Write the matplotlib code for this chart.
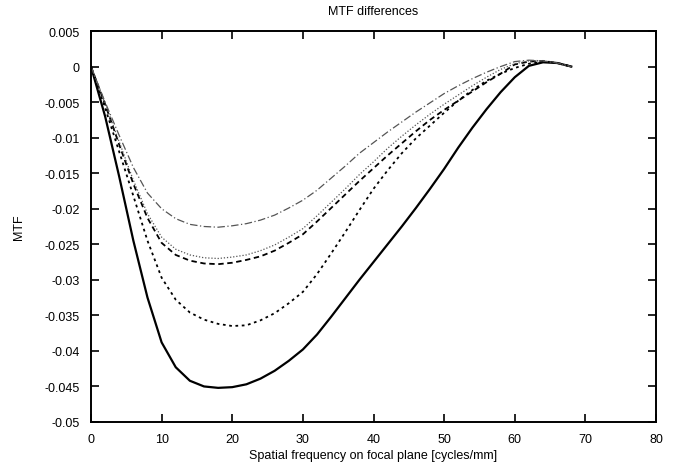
import matplotlib
matplotlib.use("Agg")
import matplotlib.pyplot as plt
import numpy as np

# spatial frequency samples (cycles/mm)
freq = [0, 2, 4, 6, 8, 10, 12, 14, 16, 18, 20, 22, 24, 26, 28, 30, 32, 34,
        36, 38, 40, 42, 44, 46, 48, 50, 52, 54, 56, 58, 60, 62, 64, 66, 68]

# MTF differences
mtf_solid = [0, -0.0070, -0.0155, -0.0245, -0.0325, -0.0388, -0.0423, -0.0442,
             -0.0450, -0.0452, -0.0451, -0.0447, -0.0439, -0.0428, -0.0414,
             -0.0398, -0.0377, -0.0352, -0.0326, -0.0300, -0.0275, -0.0250,
             -0.0225, -0.0199, -0.0172, -0.0144, -0.0114, -0.0086, -0.0060,
             -0.0036, -0.0015, 0.0001, 0.0006, 0.0005, 0.0]
mtf_shortdash = [0, -0.0058, -0.0120, -0.0182, -0.0245, -0.0297, -0.0328,
                 -0.0346, -0.0356, -0.0362, -0.0365, -0.0364, -0.0357, -0.0347,
                 -0.0333, -0.0317, -0.0292, -0.0263, -0.0233, -0.0202, -0.0172,
                 -0.0146, -0.0122, -0.0101, -0.0083, -0.0065, -0.0048, -0.0033,
                 -0.0020, -0.0010, -0.0002, 0.0004, 0.0007, 0.0005, 0.0]
mtf_dashed = [0, -0.0053, -0.0110, -0.0165, -0.0213, -0.0248, -0.0265, -0.0273,
              -0.0277, -0.0278, -0.0276, -0.0272, -0.0267, -0.0259, -0.0248,
              -0.0236, -0.0218, -0.0199, -0.0180, -0.0161, -0.0143, -0.0125,
              -0.0108, -0.0091, -0.0075, -0.0061, -0.0048, -0.0035, -0.0022,
              -0.0010, 0.0003, 0.0007, 0.0008, 0.0005, 0.0]
mtf_dotted = [0, -0.0052, -0.0106, -0.0160, -0.0207, -0.0240, -0.0257, -0.0265,
              -0.0269, -0.0270, -0.0268, -0.0265, -0.0259, -0.0251, -0.0240,
              -0.0228, -0.0210, -0.0191, -0.0172, -0.0152, -0.0134, -0.0115,
              -0.0098, -0.0082, -0.0067, -0.0053, -0.0040, -0.0027, -0.0015,
              -0.0004, 0.0004, 0.0008, 0.0008, 0.0005, 0.0]
mtf_dashdot = [0, -0.0050, -0.0097, -0.0142, -0.0178, -0.0200, -0.0214, -0.0222,
               -0.0225, -0.0226, -0.0224, -0.0221, -0.0216, -0.0209, -0.0199,
               -0.0188, -0.0174, -0.0157, -0.0140, -0.0122, -0.0107, -0.0092,
               -0.0078, -0.0064, -0.0051, -0.0038, -0.0027, -0.0017, -0.0008,
               0.0000, 0.0007, 0.0009, 0.0008, 0.0005, 0.0]

xticks = np.arange(0, 81, 10)
yticks = np.arange(-0.05, 0.0051, 0.005)
ylabels = ['-0.05', '-0.045', '-0.04', '-0.035', '-0.03', '-0.025', '-0.02',
           '-0.015', '-0.01', '-0.005', '0', '0.005']

plt.rcParams['font.family'] = ['Liberation Sans', 'DejaVu Sans']
plt.rcParams['font.size'] = 9

fig = plt.figure(figsize=(6.78, 4.64), dpi=100)
ax = fig.add_axes([0.1342, 0.0884, 0.8334, 0.8426])

ax.plot(freq, mtf_solid, color='black', lw=1.6, ls='-')
ax.plot(freq, mtf_shortdash, color='black', lw=1.3, ls=(0, (1.5, 2)))
ax.plot(freq, mtf_dashed, color='black', lw=1.3, ls=(0, (3, 2)))
ax.plot(freq, mtf_dotted, color='#555555', lw=0.9, ls=(0, (1, 1.5)))
ax.plot(freq, mtf_dashdot, color='#555555', lw=0.9, ls=(0, (6, 2, 1, 2)))

ax.set_xlim(0, 80)
ax.set_ylim(-0.05, 0.005)
ax.set_xticks(xticks)
ax.set_yticks(yticks)
ax.set_yticklabels(ylabels)
ax.tick_params(direction='in', length=6, width=1.2, top=True, right=True,
               labelsize=9, pad=8)
for s in ax.spines.values():
    s.set_linewidth(1.4)

ax.set_title('MTF differences', fontsize=9, pad=12)
ax.set_xlabel('Spatial frequency on focal plane [cycles/mm]', fontsize=9, labelpad=3)
ax.set_ylabel('MTF', fontsize=9, labelpad=14)

fig.savefig('out.png', dpi=100)
